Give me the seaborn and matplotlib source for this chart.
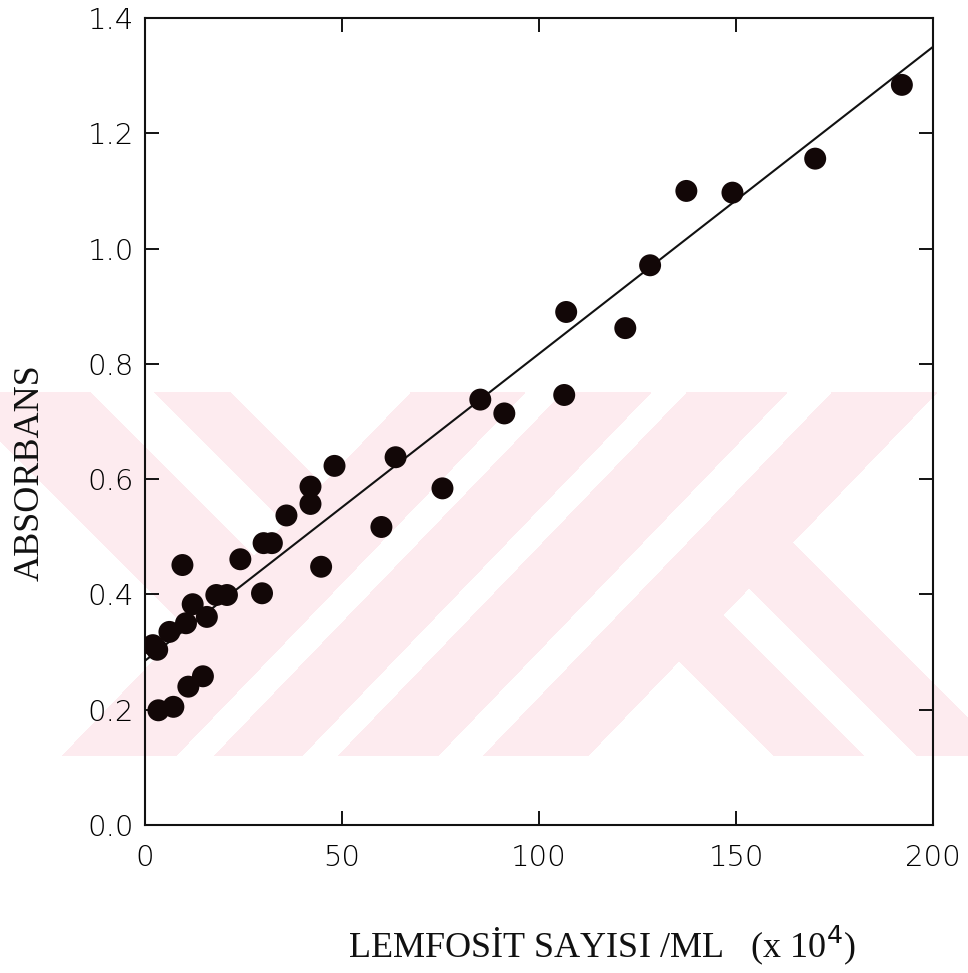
import numpy as np
import pandas as pd
import matplotlib
matplotlib.use("Agg")
import matplotlib.pyplot as plt
import seaborn as sns

# ---- data ----
lymph_count = [2.0, 3.1, 6.2, 10.4, 12.1, 15.7, 18.1, 20.8, 9.5, 24.2, 29.7, 30.1,
               32.2, 35.9, 42.0, 42.0, 48.1, 44.7, 60.0, 63.6, 75.5, 85.1, 91.2,
               106.4, 106.9, 121.9, 128.2, 137.4, 149.1, 170.1, 192.1,
               3.4, 7.2, 11.0, 14.7]
absorbance = [0.312, 0.304, 0.335, 0.350, 0.383, 0.361, 0.399, 0.399, 0.451, 0.461,
              0.402, 0.489, 0.489, 0.537, 0.587, 0.557, 0.623, 0.448, 0.517, 0.638,
              0.584, 0.738, 0.714, 0.746, 0.890, 0.862, 0.971, 1.100, 1.097, 1.156,
              1.284, 0.199, 0.205, 0.240, 0.258]
fit_x = [0, 200]
fit_y = [0.285, 1.350]
x_ticks = [0, 50, 100, 150, 200]
y_ticks = [0.0, 0.2, 0.4, 0.6, 0.8, 1.0, 1.2, 1.4]

df = pd.DataFrame({"x": lymph_count, "y": absorbance})
fit = pd.DataFrame({"x": fit_x, "y": fit_y})

sns.set_style("ticks")
plt.rcParams["font.family"] = ["DejaVu Sans"]

W, H = 968, 973
fig = plt.figure(figsize=(W / 100, H / 100), dpi=100)
fig.patch.set_facecolor("white")

# ---- background watermark (light pink diagonal bands, figure pixels) ----
yy, xx = np.mgrid[0:H, 0:W]
u = xx + 0.96 * (yy - 392)      # "/" direction coordinate (x at top of band)
d = yy - xx                     # "\" direction coordinate
band = (yy >= 392) & (yy <= 755)
left = u < 410
pink_left = left & (((d >= 162) & (d < 239)) | ((d >= 302) & (d < 442)))
stripes = ((u >= 525) & (u < 562)) | ((u >= 651) & (u < 686)) | ((u >= 787) & (u < 831))
far = u >= 937
white_far = far & ((d >= -17) | ((d >= -160) & (d < -108)) | (d < -250))
pink_right = (~left) & (~stripes) & (~white_far)
mask = band & (pink_left | pink_right)
img = np.zeros((H, W, 4))
img[..., 0] = 253 / 255
img[..., 1] = 235 / 255
img[..., 2] = 239 / 255
img[..., 3] = mask.astype(float)
fig.figimage(img, xo=0, yo=0, origin="upper", zorder=0)

ax = fig.add_axes([145 / W, 1 - 825 / H, 788 / W, 807 / H])
ax.set_zorder(2)
ax.set_facecolor("none")

sns.lineplot(data=fit, x="x", y="y", ax=ax, color="#111111", linewidth=1.5, zorder=2)
sns.scatterplot(data=df, x="x", y="y", ax=ax, color="#120707", s=250,
                edgecolor="none", linewidth=0, zorder=3)

ax.set_xlim(0, 200)
ax.set_ylim(0, 1.4)
ax.set_xticks(x_ticks)
ax.set_yticks(y_ticks)
ax.set_xticklabels([str(v) for v in x_ticks], fontweight="light")
ax.set_yticklabels([f"{v:.1f}" for v in y_ticks], fontweight="light")
ax.tick_params(axis="both", direction="in", length=10, width=1.3,
               top=True, right=True, labelsize=21, colors="#000000")
ax.tick_params(axis="x", pad=14)
ax.tick_params(axis="y", pad=8)
for sp in ax.spines.values():
    sp.set_linewidth(1.5)
    sp.set_color("#111111")

ax.set_xlabel("LEMFOSİT SAYISI /ML   (x 10$^{4}$)", family="Liberation Serif",
              fontsize=26, color="#111111", va="center")
ax.xaxis.set_label_coords(0.579, -0.149)
ax.set_ylabel("ABSORBANS", family="Liberation Serif", fontsize=26,
              color="#111111", va="center")
ax.yaxis.set_label_coords(-0.146, 0.437)

fig.savefig("out.png", dpi=100)
